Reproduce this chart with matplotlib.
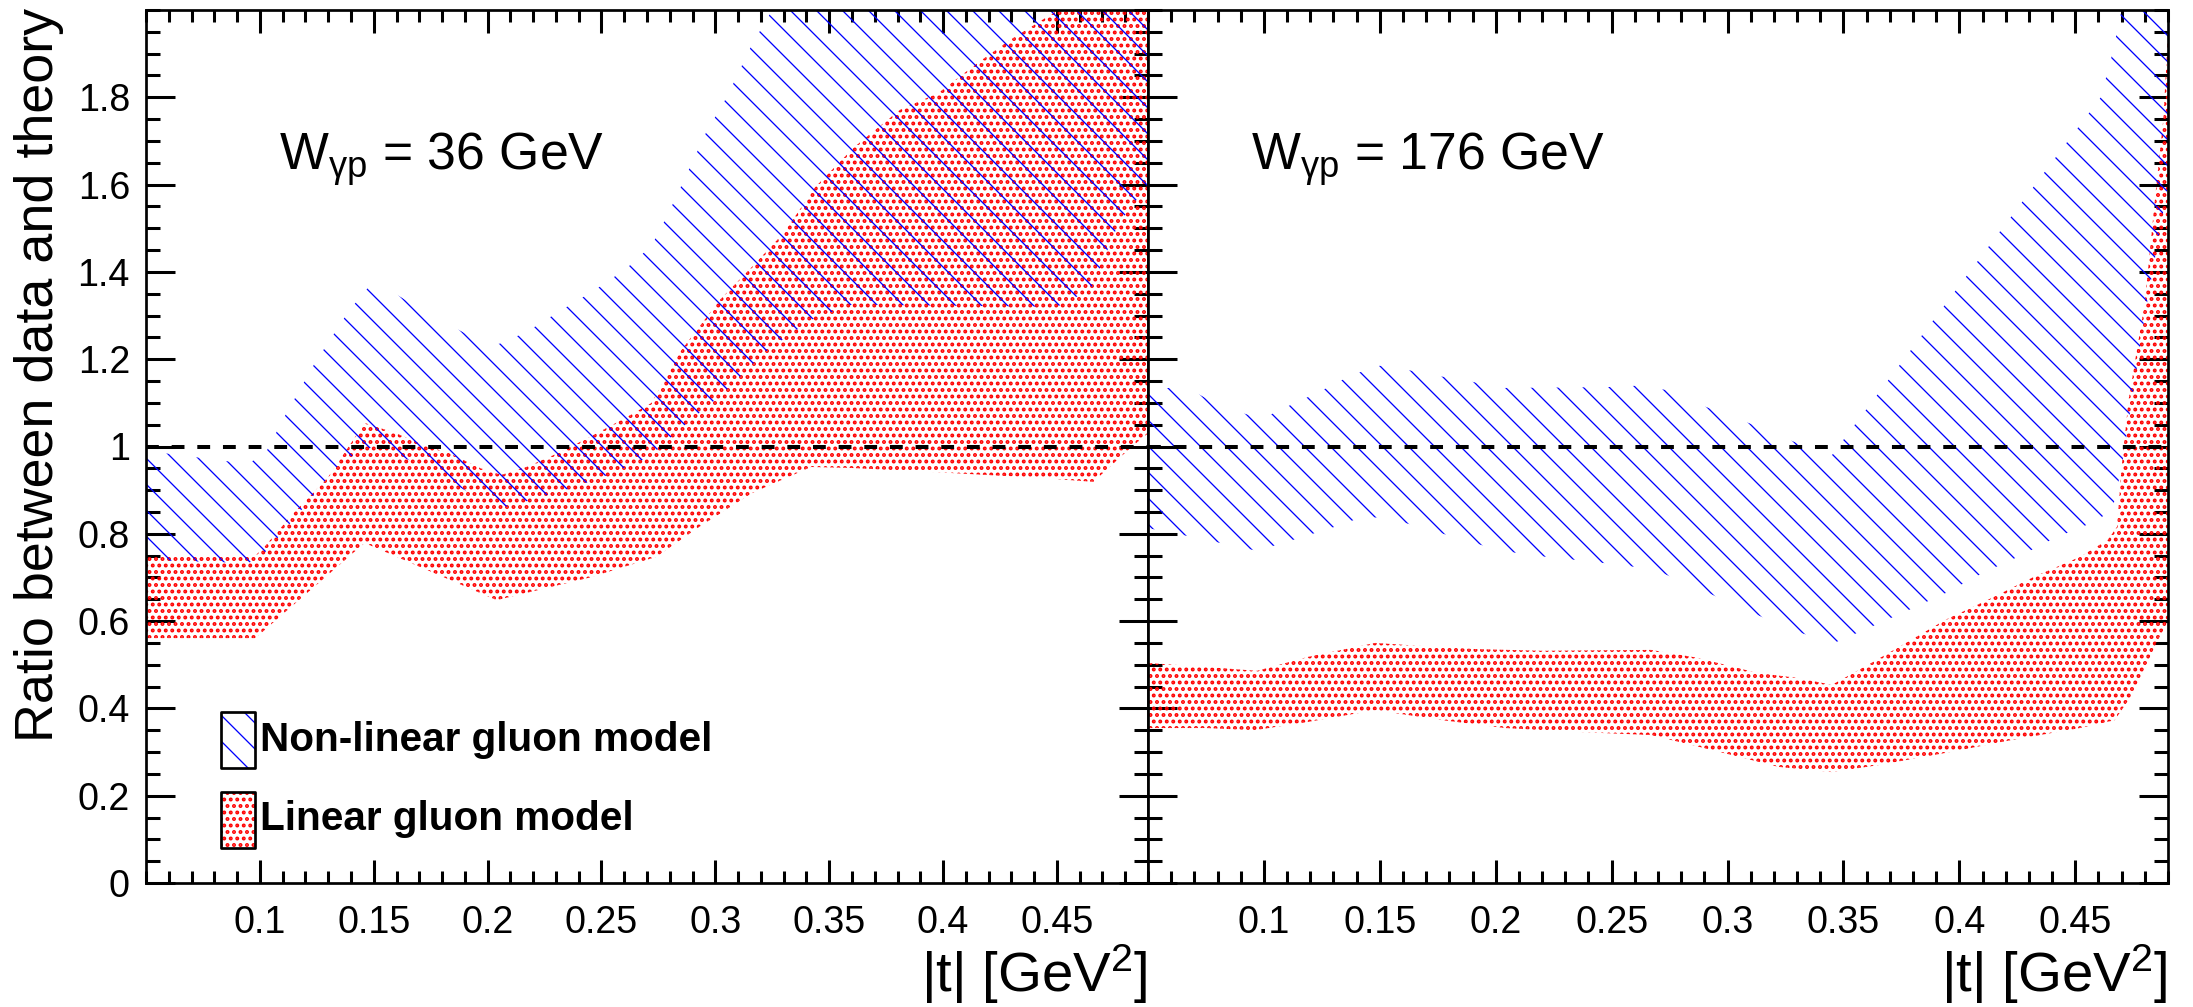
import matplotlib
matplotlib.use("Agg")
import matplotlib.pyplot as plt
from matplotlib.ticker import FixedLocator, MultipleLocator, FuncFormatter
from matplotlib.patches import Rectangle

plt.rcParams['font.family'] = ['Liberation Sans', 'DejaVu Sans']
plt.rcParams['mathtext.default'] = 'regular'
plt.rcParams['hatch.linewidth'] = 0.6
plt.rcParams['lines.scale_dashes'] = True

# ---------------- data ----------------
x_ticks = [0.1, 0.15, 0.2, 0.25, 0.3, 0.35, 0.4, 0.45]
y_ticks = [0, 0.2, 0.4, 0.6, 0.8, 1.0, 1.2, 1.4, 1.6, 1.8]
x_range = [0.05, 0.49]
y_range = [0.0, 2.0]
ref_ratio = 1.0

panel_labels = [r'W$_{\mathregular{γp}}$ = 36 GeV', r'W$_{\mathregular{γp}}$ = 176 GeV']
legend_labels = ['Non-linear gluon model', 'Linear gluon model']
x_title = r'|t| [GeV$^{2}$]'
y_title = 'Ratio between data and theory'

# W = 36 GeV : non-linear (blue) band
t36_nl_lo = [0.05, 0.095, 0.101, 0.112, 0.123, 0.133, 0.141, 0.15, 0.17, 0.185, 0.2, 0.21,
             0.22, 0.237, 0.255, 0.271, 0.284, 0.296, 0.303, 0.322, 0.342, 0.36, 0.45,
             0.465, 0.477, 0.49]
nl36_lo = [0.74, 0.733, 0.75, 0.816, 0.884, 0.95, 0.98, 1.0, 0.96, 0.915, 0.87, 0.861,
           0.88, 0.905, 0.939, 0.976, 1.038, 1.09, 1.12, 1.217, 1.29, 1.325, 1.32,
           1.36, 1.51, 1.6]
t36_nl_hi = [0.05, 0.095, 0.103, 0.111, 0.124, 0.139, 0.15, 0.172, 0.197, 0.205, 0.217,
             0.231, 0.247, 0.261, 0.272, 0.279, 0.288, 0.296, 0.305, 0.316, 0.325, 0.35, 0.49]
nl36_hi = [0.99, 0.96, 0.99, 1.07, 1.19, 1.31, 1.38, 1.31, 1.24, 1.235, 1.262,
           1.308, 1.358, 1.408, 1.46, 1.53, 1.63, 1.72, 1.8, 1.92, 2.0, 2.2, 2.5]

# W = 36 GeV : linear (red) band
t36_l_lo = [0.05, 0.098, 0.146, 0.204, 0.245, 0.274, 0.293, 0.316, 0.342, 0.359, 0.401,
            0.443, 0.466, 0.483, 0.49]
l36_lo = [0.561, 0.561, 0.779, 0.648, 0.70, 0.747, 0.816, 0.893, 0.953, 0.951, 0.94,
          0.928, 0.919, 1.0, 1.03]
t36_l_hi = [0.05, 0.098, 0.102, 0.114, 0.13, 0.146, 0.16, 0.172, 0.183, 0.197, 0.206,
            0.217, 0.231, 0.245, 0.262, 0.272, 0.285, 0.302, 0.316, 0.33, 0.344, 0.361,
            0.381, 0.398, 0.415, 0.429, 0.449, 0.47, 0.49]
l36_hi = [0.75, 0.75, 0.77, 0.843, 0.93, 1.054, 1.03, 1.003, 0.985, 0.95, 0.935,
          0.953, 0.985, 1.022, 1.07, 1.10, 1.22, 1.336, 1.411, 1.489, 1.595, 1.686,
          1.771, 1.81, 1.878, 1.93, 1.995, 2.1, 2.2]

# W = 176 GeV : non-linear (blue) band
t176_nl_lo = [0.05, 0.067, 0.083, 0.097, 0.115, 0.133, 0.141, 0.152, 0.169, 0.185, 0.201,
              0.215, 0.242, 0.268, 0.289, 0.309, 0.329, 0.346, 0.362, 0.378, 0.394, 0.41,
              0.426, 0.441, 0.458, 0.466, 0.47, 0.473, 0.48, 0.49]
nl176_lo = [0.813, 0.795, 0.777, 0.761, 0.79, 0.82, 0.836, 0.838, 0.813, 0.788, 0.763,
            0.751, 0.736, 0.719, 0.671, 0.623, 0.577, 0.55, 0.587, 0.625, 0.664, 0.71,
            0.749, 0.79, 0.827, 0.854, 0.953, 1.056, 1.3, 1.6]
t176_nl_hi = [0.05, 0.067, 0.081, 0.099, 0.107, 0.123, 0.138, 0.15, 0.158, 0.172, 0.187,
              0.201, 0.248, 0.26, 0.273, 0.291, 0.31, 0.329, 0.345, 0.461, 0.466, 0.47, 0.49]
nl176_hi = [1.134, 1.134, 1.093, 1.063, 1.084, 1.123, 1.164, 1.185, 1.18, 1.164, 1.152,
            1.134, 1.136, 1.139, 1.13, 1.09, 1.052, 1.01, 0.98, 1.80, 1.90, 2.0, 2.3]

# W = 176 GeV : linear (red) band
t176_l_lo = [0.05, 0.075, 0.096, 0.119, 0.148, 0.177, 0.204, 0.235, 0.267, 0.293, 0.322,
             0.345, 0.365, 0.394, 0.423, 0.452, 0.467, 0.475, 0.481, 0.485, 0.49]
l176_lo = [0.355, 0.355, 0.35, 0.369, 0.396, 0.373, 0.355, 0.346, 0.339, 0.305, 0.266,
           0.254, 0.27, 0.298, 0.328, 0.355, 0.373, 0.435, 0.504, 0.55, 0.6]
t176_l_hi = [0.05, 0.075, 0.097, 0.119, 0.148, 0.168, 0.191, 0.22, 0.267, 0.287, 0.313,
             0.33, 0.345, 0.359, 0.377, 0.394, 0.412, 0.432, 0.452, 0.464, 0.468, 0.47,
             0.473, 0.48, 0.485, 0.488, 0.49]
l176_hi = [0.504, 0.495, 0.486, 0.518, 0.55, 0.543, 0.536, 0.532, 0.534, 0.516, 0.481,
           0.47, 0.454, 0.495, 0.55, 0.603, 0.648, 0.701, 0.747, 0.786, 0.816, 0.953,
           1.107, 1.33, 1.6, 1.75, 1.95]

# ---------------- styling ----------------
NL_COLOR = '#0000ff'
L_COLOR = '#ff0000'
NL_HATCH = '\\\\'
L_HATCH = '....'
NL_HLW = 0.6
L_HLW = 1.2

DPI = 156
W, H = 2193, 1007
fig = plt.figure(figsize=(W / DPI, H / DPI), dpi=DPI, facecolor='white')
ax1 = fig.add_axes([146 / W, 124 / H, 1002 / W, 873 / H])
ax2 = fig.add_axes([1148 / W, 124 / H, 1020 / W, 873 / H])


def set_hlw(artists, hlw):
    for p in artists:
        if hasattr(p, 'set_hatch_linewidth'):
            p.set_hatch_linewidth(hlw)


def band(ax, t_lo, lo, t_hi, hi, color, hatch, hlw, z):
    xs = list(t_hi) + list(t_lo)[::-1]
    ys = list(hi) + list(lo)[::-1]
    with plt.rc_context({'hatch.linewidth': hlw}):
        polys = ax.fill(xs, ys, facecolor='none', edgecolor=color, hatch=hatch,
                        linewidth=0, zorder=z)
    set_hlw(polys, hlw)


panels = [
    (ax1, (t36_l_lo, l36_lo, t36_l_hi, l36_hi), (t36_nl_lo, nl36_lo, t36_nl_hi, nl36_hi),
     panel_labels[0], 0.1327, 1148),
    (ax2, (t176_l_lo, l176_lo, t176_l_hi, l176_hi), (t176_nl_lo, nl176_lo, t176_nl_hi, nl176_hi),
     panel_labels[1], 0.101, 2168),
]

for i, (ax, lin, nonlin, lab, lab_x, right_px) in enumerate(panels):
    band(ax, *lin, L_COLOR, L_HATCH, L_HLW, 2)
    band(ax, *nonlin, NL_COLOR, NL_HATCH, NL_HLW, 3)
    ax.axhline(ref_ratio, color='black', lw=1.85, linestyle=(0, (3.2, 3.2)), zorder=4)

    ax.set_xlim(*x_range)
    ax.set_ylim(*y_range)
    ax.xaxis.set_major_locator(FixedLocator(x_ticks))
    ax.xaxis.set_minor_locator(MultipleLocator(0.01))
    ax.yaxis.set_major_locator(FixedLocator(y_ticks))
    ax.yaxis.set_minor_locator(MultipleLocator(0.05))
    ax.xaxis.set_major_formatter(FuncFormatter(lambda v, p: f'{v:g}'))
    ax.yaxis.set_major_formatter(FuncFormatter(lambda v, p: f'{v:g}'))

    ax.tick_params(which='both', direction='in', top=True, right=True,
                   width=1.4, color='black', labelsize=17.4)
    ax.tick_params(axis='x', which='major', length=10.6, pad=10.0)
    ax.tick_params(axis='x', which='minor', length=5.5)
    ax.tick_params(axis='y', which='major', length=13.4, pad=7.4)
    ax.tick_params(axis='y', which='minor', length=6.5)
    if i == 1:
        ax.tick_params(axis='y', labelleft=False)
    for s in ax.spines.values():
        s.set_linewidth(1.25)
        s.set_zorder(6)

    ax.text(lab_x, 0.8167, lab, transform=ax.transAxes, fontsize=23.9,
            ha='left', va='baseline', zorder=7)
    fig.text(right_px / W, 15 / H, x_title, fontsize=26, ha='right', va='baseline')

# legend (drawn manually inside the left panel)
leg_boxes = [(0.0749, 0.1317), (0.0749, 0.0401)]
leg_text_y = [0.1512, 0.0607]
leg_styles = [(NL_COLOR, NL_HATCH, NL_HLW), (L_COLOR, L_HATCH, L_HLW)]
for (bx, by), ty, (col, hat, hlw), txt in zip(leg_boxes, leg_text_y, leg_styles, legend_labels):
    with plt.rc_context({'hatch.linewidth': hlw}):
        hp = Rectangle((bx, by), 0.0339, 0.0645, transform=ax1.transAxes,
                       facecolor='none', edgecolor=col, hatch=hat, linewidth=0, zorder=8)
    set_hlw([hp], hlw)
    ax1.add_patch(hp)
    ax1.add_patch(Rectangle((bx, by), 0.0339, 0.0645, transform=ax1.transAxes,
                            facecolor='none', edgecolor='black', linewidth=1.25,
                            joinstyle='round', zorder=9))
    ax1.text(0.1138, ty, txt, transform=ax1.transAxes, fontsize=18.7, fontweight='bold',
             ha='left', va='baseline', zorder=9)

fig.text(39 / W, 1 - 8 / H, y_title, rotation=90, fontsize=24.9, ha='center', va='top')

fig.savefig('out.png', dpi=DPI, facecolor='white')
